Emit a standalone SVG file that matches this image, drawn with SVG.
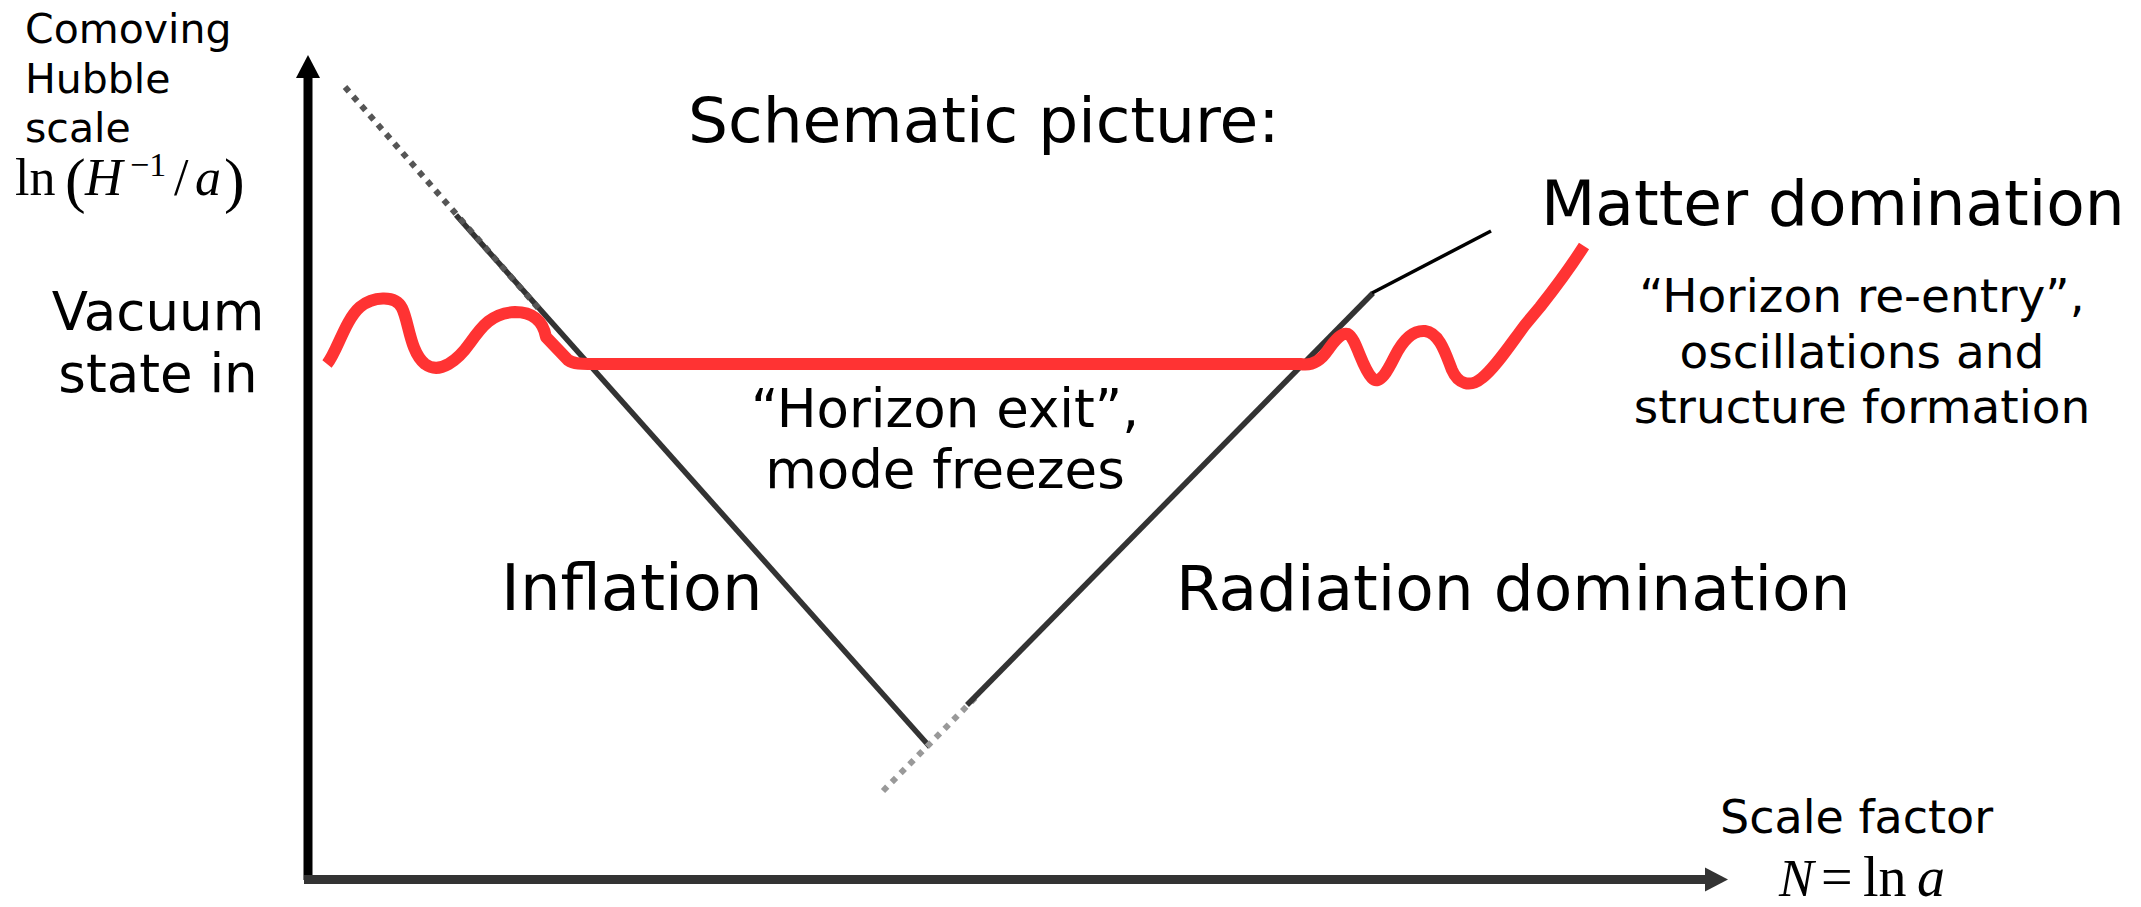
<svg xmlns="http://www.w3.org/2000/svg" width="2141" height="907" viewBox="0 0 2141 907">
<style>
.t{font-family:"DejaVu Sans","Liberation Sans",sans-serif;fill:#000}
.m{font-family:"Liberation Serif","Times New Roman",serif;fill:#000}
.i{font-style:italic}
.dark{stroke:#333;stroke-width:5.5;fill:none}
.dot{stroke-width:6;stroke-dasharray:6 6.5;fill:none}
.red{stroke:#ff3333;stroke-width:12;fill:none;stroke-linejoin:round}
</style>
<rect width="2141" height="907" fill="#fff"/>
<g id="axes">
<line x1="308" y1="880" x2="308" y2="76" stroke="#000" stroke-width="9"/>
<polygon points="308,55 296,78 320,78" fill="#000"/>
<line x1="304" y1="879.5" x2="1707" y2="879.5" stroke="#333" stroke-width="9"/>
<polygon points="1728,879.5 1705,867.5 1705,891.5" fill="#333"/>
</g>
<g id="connectors">
<line class="dark" x1="456" y1="215" x2="930" y2="747"/>
<line class="dot" stroke="#555" x1="345" y1="87" x2="540" y2="310"/>
<line class="dot" stroke="#999" x1="883" y1="791" x2="976" y2="697"/>
<polyline class="dark" points="967,705 1373,293"/>
<line x1="1372" y1="293" x2="1491" y2="231" stroke="#000" stroke-width="3.5"/>
</g>
<g id="mode">
<path class="red" d="M327,364 C337,352 345,320 360,307 C372,297 395,294 402,308 C409,322 410,352 425,364 C440,375 458,360 470,343 C482,326 492,313 515,312 C532,312 543,320 546,337 L568,360 C575,365 585,364 595,364 L1300,364 C1310,366 1320,362 1328,350 C1335,340 1342,332 1348,334 C1356,338 1362,368 1372,378 C1380,386 1388,370 1395,356 C1402,342 1412,330 1425,331 C1440,333 1446,355 1452,370 C1458,384 1470,388 1482,378 C1495,368 1510,345 1525,325 L1540,307 C1555,288 1570,268 1584,246"/>
</g>
<g id="y-label">
<text class="t" font-size="41" x="25" y="43">Comoving</text>
<text class="t" font-size="41" x="25" y="93">Hubble</text>
<text class="t" font-size="41" x="25" y="142">scale</text>
<text class="m" font-size="52" x="15" y="195">ln</text>
<text class="m" font-size="62" x="65" y="201">(</text>
<text class="m i" font-size="52" x="85" y="195">H</text>
<text class="m" font-size="34" x="130" y="176">−1</text>
<text class="m" font-size="52" x="174" y="195">/</text>
<text class="m i" font-size="52" x="195" y="195">a</text>
<text class="m" font-size="62" x="224" y="201">)</text>
</g>
<g id="vacuum">
<text class="t" font-size="53" x="158" y="330" text-anchor="middle">Vacuum</text>
<text class="t" font-size="53" x="158" y="392" text-anchor="middle">state in</text>
</g>
<g id="title"><text class="t" font-size="63" x="688" y="142">Schematic picture:</text></g>
<g id="matter"><text class="t" font-size="63" x="1541" y="225">Matter domination</text></g>
<g id="reentry">
<text class="t" font-size="47" x="1862" y="312" text-anchor="middle">“Horizon re-entry”,</text>
<text class="t" font-size="47" x="1862" y="368" text-anchor="middle">oscillations and</text>
<text class="t" font-size="47" x="1862" y="423" text-anchor="middle">structure formation</text>
</g>
<g id="exit">
<text class="t" font-size="53" x="945" y="427" text-anchor="middle">“Horizon exit”,</text>
<text class="t" font-size="53" x="945" y="488" text-anchor="middle">mode freezes</text>
</g>
<g id="inflation"><text class="t" font-size="64" x="501" y="610">Inflation</text></g>
<g id="radiation"><text class="t" font-size="63" x="1176" y="610">Radiation domination</text></g>
<g id="x-label">
<text class="t" font-size="46" x="1720" y="833">Scale factor</text>
<text class="m i" font-size="52" x="1779" y="896">N</text>
<text class="m" font-size="56" x="1821" y="896">=</text>
<text class="m" font-size="56" x="1863" y="896">ln</text>
<text class="m i" font-size="56" x="1917" y="896">a</text>
</g>
</svg>
